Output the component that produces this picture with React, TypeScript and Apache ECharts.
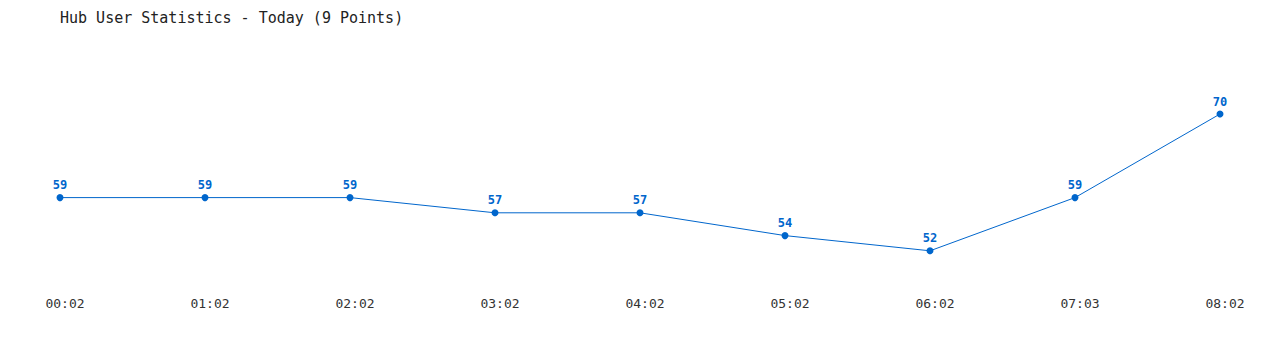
import React, { useEffect, useRef } from "react";
import * as echarts from "echarts";

const titleText = "Hub User Statistics - Today (9 Points)";
const times = ["00:02", "01:02", "02:02", "03:02", "04:02", "05:02", "06:02", "07:03", "08:02"];
const users = [59, 59, 59, 57, 57, 54, 52, 59, 70];

const FONT = "'DejaVu Sans Mono', monospace";
const BLUE = "#0066cc";

export default function App() {
  const ref = useRef<HTMLDivElement>(null);
  useEffect(() => {
    if (!ref.current) return;
    const chart = echarts.init(ref.current, null, { renderer: "svg" });
    chart.setOption({
      animation: false,
      backgroundColor: "#ffffff",
      title: {
        text: titleText,
        left: 55,
        top: 5,
        textStyle: { fontFamily: FONT, fontSize: 15, fontWeight: "normal", color: "#222222" },
      },
      grid: { left: 60, right: 60, top: 38, bottom: 8 },
      xAxis: {
        type: "category",
        data: times,
        boundaryGap: false,
        offset: -45,
        axisLine: { show: false },
        axisTick: { show: false },
        splitLine: { show: false },
        axisLabel: {
          fontFamily: FONT,
          fontSize: 13,
          color: "#333333",
          margin: 0,
          padding: [0, 0, 0, 10],
        },
      },
      yAxis: {
        type: "value",
        min: 40,
        max: 80,
        show: false,
        splitLine: { show: false },
      },
      series: [
        {
          type: "line",
          data: users,
          symbol: "circle",
          symbolSize: 7,
          lineStyle: { color: BLUE, width: 1 },
          itemStyle: { color: BLUE },
          label: {
            show: true,
            position: "top",
            distance: 3,
            fontFamily: FONT,
            fontSize: 12,
            fontWeight: "bold",
            color: BLUE,
          },
        },
      ],
    });
    return () => chart.dispose();
  }, []);
  return <div ref={ref} style={{ width: 1280, height: 350, position: "absolute", left: 0, top: 0 }} />;
}
